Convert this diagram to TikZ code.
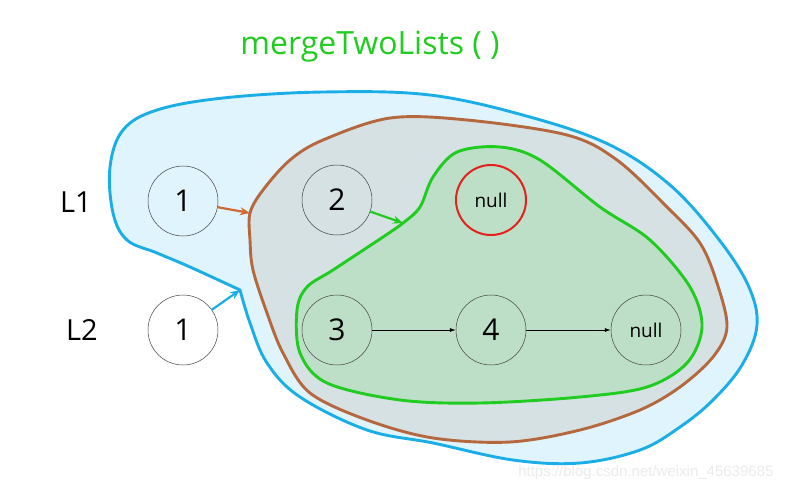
\documentclass[tikz,border=0pt]{standalone}
\usepackage{fontspec}
\setmainfont{Open Sans}
\newfontfamily\markfont{Liberation Sans}
\usepackage{tikz}
\usetikzlibrary{arrows.meta,positioning}
\definecolor{blobBlue}{HTML}{1BAEE6}
\definecolor{blobBlueFill}{HTML}{DFF4FC}
\definecolor{blobBrown}{HTML}{B5683E}
\definecolor{blobBrownFill}{HTML}{D5E1E2}
\definecolor{blobGreen}{HTML}{1FCC1F}
\definecolor{blobGreenFill}{HTML}{BEDFC7}
\definecolor{nullRed}{HTML}{E2201C}
\definecolor{linkOrange}{HTML}{CF6A34}

\begin{document}
\begin{tikzpicture}[x=1pt,y=-1pt]
    \tikzset{
      lnode/.style={circle, draw=black!75, line width=0.5pt, minimum size=70pt, inner sep=0pt, font=\fontsize{30}{30}\selectfont},
      nullnode/.style={lnode, font=\fontsize{19}{19}\selectfont},
      lname/.style={font=\fontsize{29}{29}\selectfont},
      blob/.style={line width=2.9pt, line join=round},
      link/.style={black, line width=0.6pt, -{Latex[length=6pt,width=4pt]}},
      hop/.style={line width=2.2pt, -{Stealth[length=10pt,width=8pt]}}
    }
    \useasboundingbox (0,0) rectangle (785,493);

    % Title
    \node[text=blobGreen, font=\fontsize{32}{32}\selectfont] (title) at (370,47) {mergeTwoLists ( )};

    % Outer blob: everything merged with L2
    \draw[blob, draw=blobBlue, fill=blobBlueFill]
      plot[smooth, tension=0.6] coordinates {(240,290) (190,267) (157,253) (127,240) (113,213) (110,167) (123,130) (157,110) (223,98) (323,92) (430,95) (530,117) (610,145) (670,185) (717,237) (748,285) (757,325) (742,365) (713,400) (680,427) (640,450) (580,463) (513,460) (433,443) (367,430) (300,397) (267,363) (250,323) (240,290)} -- cycle;

    % Middle blob: rest of L1 with L2
    \draw[blob, draw=blobBrown, fill=blobBrownFill]
      plot[smooth cycle, tension=0.55] coordinates {(250,213) (263,190) (290,160) (323,140) (390,118) (467,120) (567,135) (617,160) (667,207) (700,243) (717,283) (727,327) (713,357) (680,387) (640,410) (580,430) (510,442) (433,438) (367,420) (310,393) (283,353) (267,313) (253,270) (250,240)};

    % Inner blob: rest of L1 (null) with 3, 4
    \draw[blob, draw=blobGreen, fill=blobGreenFill]
      plot[smooth cycle, tension=0.55] coordinates {(403,223) (420,207) (433,177) (457,152) (500,147) (540,160) (600,207) (650,240) (690,287) (702,327) (687,363) (647,387) (580,397) (480,403) (400,400) (327,383) (300,353) (297,310) (307,287) (333,270) (383,237)};

    % Where the links land
    \coordinate (brownIn) at (250,213);
    \coordinate (notch) at (240,290);
    \coordinate (greenIn) at (403,223);

    % Lists
    \node[lname] (L1) at (76,202) {L1};
    \node[lname] (L2) at (82,330) {L2};

    \node[lnode] (a1) at (183,201) {1};
    \node[lnode] (a2) at (337,200) {2};
    \node[nullnode, draw=nullRed, line width=2pt] (anull) at (491,200) {null};

    \node[lnode] (b1) at (183,330) {1};
    \node[lnode] (b3) at (337,330) {3};
    \node[lnode] (b4) at (491,330) {4};
    \node[nullnode] (bnull) at (646,330) {null};

    % Links
    \draw[link] (b3) -- (b4);
    \draw[link] (b4) -- (bnull);
    \draw[hop, linkOrange] (a1) -- (brownIn);
    \draw[hop, blobBlue] (b1) -- (notch);
    \draw[hop, blobGreen] (a2) -- (greenIn);

    % Watermark
    \node[text=black!8, font=\markfont\fontsize{15}{15}\selectfont, anchor=east] (mark) at (777,473) {https://blog.csdn.net/weixin\_45639685};
  \end{tikzpicture}
\end{document}
